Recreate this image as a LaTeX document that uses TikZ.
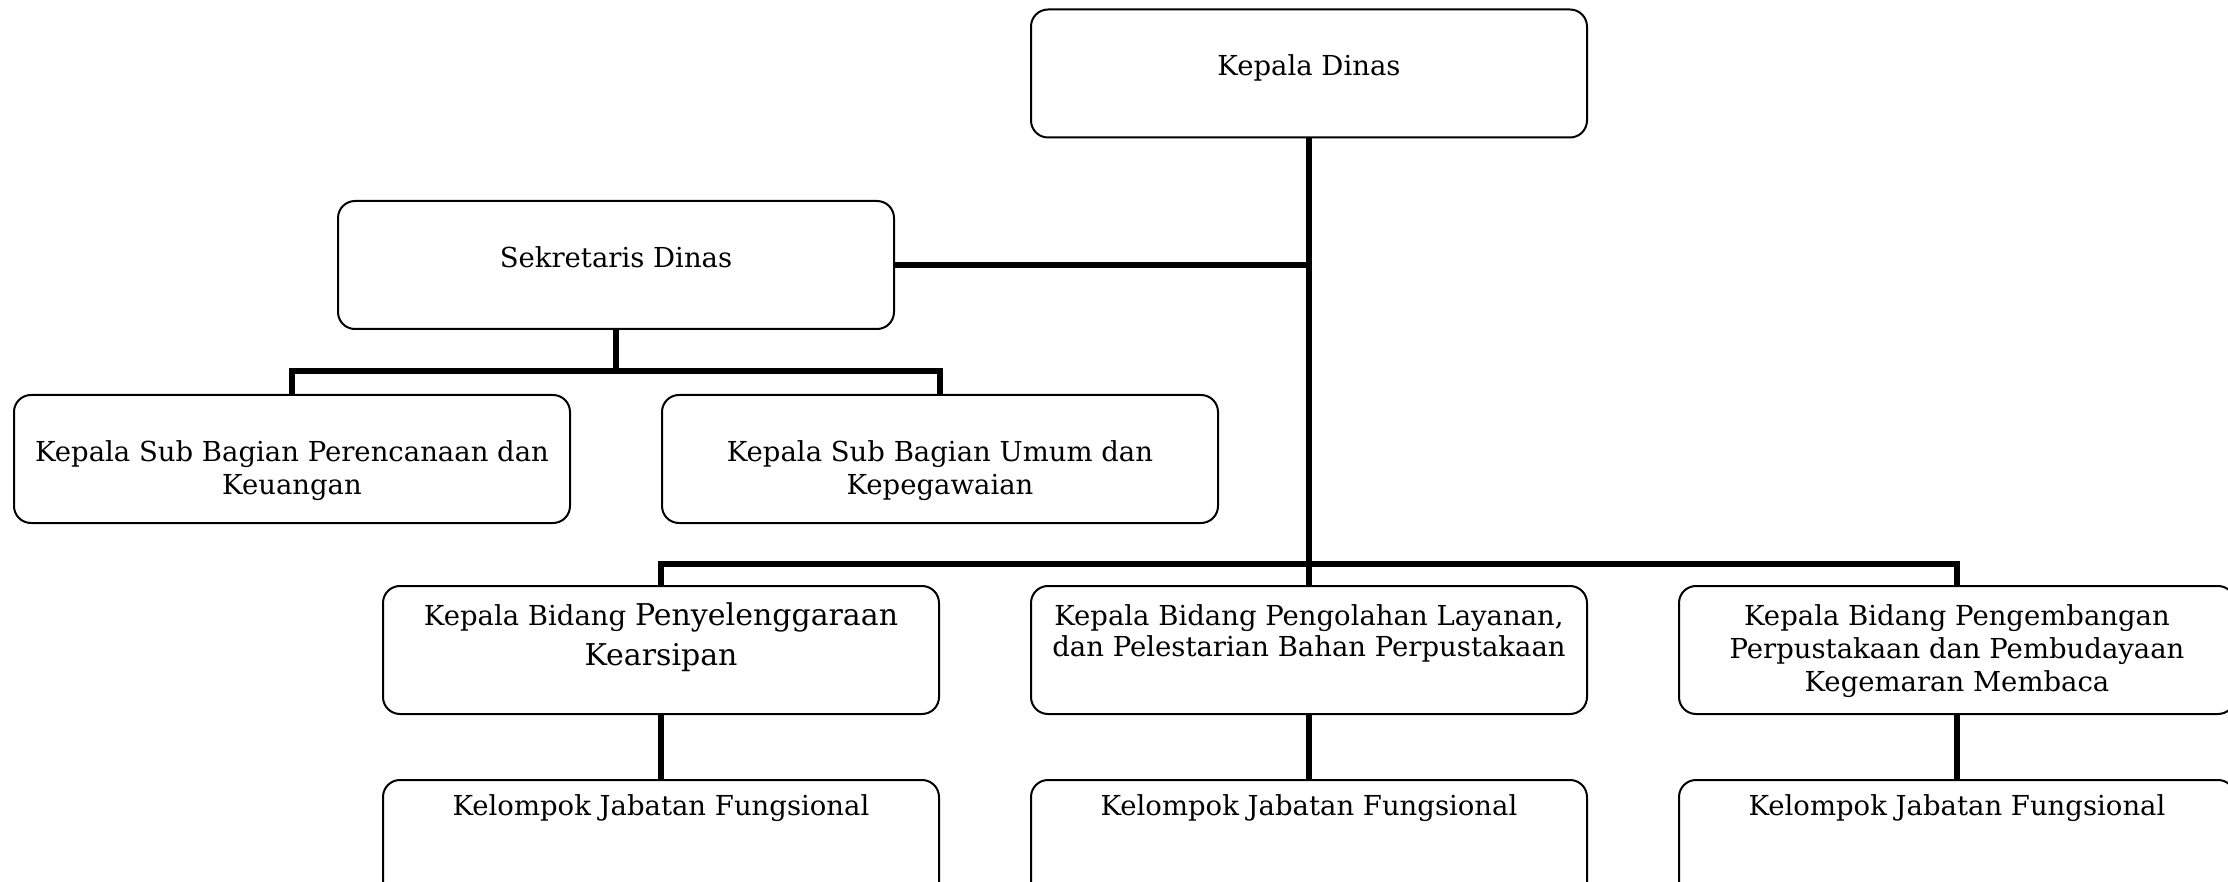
\documentclass[tikz,border=0pt]{standalone}
\usepackage{fontspec}
\setmainfont{DejaVu Serif}
\begin{document}
\begin{tikzpicture}[x=1pt,y=-1pt,
  orgbox/.style={draw, line width=2pt, rounded corners=17pt, minimum width=556pt,
    minimum height=128pt, inner sep=0pt, anchor=north west},
  boxtext/.style={anchor=north, inner sep=0pt, align=center,
    font=\fontsize{27.5}{33}\selectfont},
  link/.style={line width=5.5pt}]
\fill[white] (0,0) rectangle (2228,882);
\useasboundingbox (0,0) rectangle (2228,882);

% boxes
\node[orgbox] (kadis)  at (1030,8.5) {};
\node[orgbox] (sekdis) at (337,200) {};
\node[orgbox] (subren) at (13,394) {};
\node[orgbox] (subum)  at (661,394) {};
\node[orgbox] (bid1)   at (382,585) {};
\node[orgbox] (bid2)   at (1030,585) {};
\node[orgbox] (bid3)   at (1678,585) {};
\node[orgbox] (jf1)    at (382,779) {};
\node[orgbox] (jf2)    at (1030,779) {};
\node[orgbox] (jf3)    at (1678,779) {};

% labels
\node[boxtext] (kadis-t)  at ([yshift=-46pt]kadis.north) {Kepala Dinas};
\node[boxtext] (sekdis-t) at ([yshift=-46pt]sekdis.north) {Sekretaris Dinas};
\node[boxtext] (subren-t) at ([yshift=-46pt]subren.north) {Kepala Sub Bagian Perencanaan dan\\Keuangan};
\node[boxtext] (subum-t)  at ([yshift=-46pt]subum.north) {Kepala Sub Bagian Umum dan\\Kepegawaian};
\node[boxtext, font=\fontsize{27.5}{40}\selectfont] (bid1-t) at ([yshift=-18pt]bid1.north)
  {Kepala Bidang {\fontsize{30}{40}\selectfont Penyelenggaraan}\\{\fontsize{30}{40}\selectfont Kearsipan}};
\node[boxtext, font=\fontsize{27.5}{31}\selectfont] (bid2-t) at ([yshift=-19pt]bid2.north)
  {Kepala Bidang Pengolahan Layanan,\\dan Pelestarian Bahan Perpustakaan};
\node[boxtext] (bid3-t) at ([yshift=-19pt]bid3.north)
  {Kepala Bidang Pengembangan\\Perpustakaan dan Pembudayaan\\Kegemaran Membaca};
\node[boxtext] (jf1-t) at ([yshift=-15pt]jf1.north) {Kelompok Jabatan Fungsional};
\node[boxtext] (jf2-t) at ([yshift=-15pt]jf2.north) {Kelompok Jabatan Fungsional};
\node[boxtext] (jf3-t) at ([yshift=-15pt]jf3.north) {Kelompok Jabatan Fungsional};

% connectors
\coordinate (subbar) at (0,371);
\coordinate (bidbar) at (0,564);
\draw[link] (kadis.south) -- (bid2.north);
\draw[link] (sekdis.east) -- (sekdis.east -| kadis.south);
\draw[link] (sekdis.south) -- (sekdis.south |- subbar);
\draw[link] (subren.north) -- (subren.north |- subbar) -- (subum.north |- subbar) -- (subum.north);
\draw[link] (bid1.north) -- (bid1.north |- bidbar) -- (bid3.north |- bidbar) -- (bid3.north);
\draw[link] (bid1.south) -- (jf1.north);
\draw[link] (bid2.south) -- (jf2.north);
\draw[link] (bid3.south) -- (jf3.north);
\end{tikzpicture}
\end{document}
